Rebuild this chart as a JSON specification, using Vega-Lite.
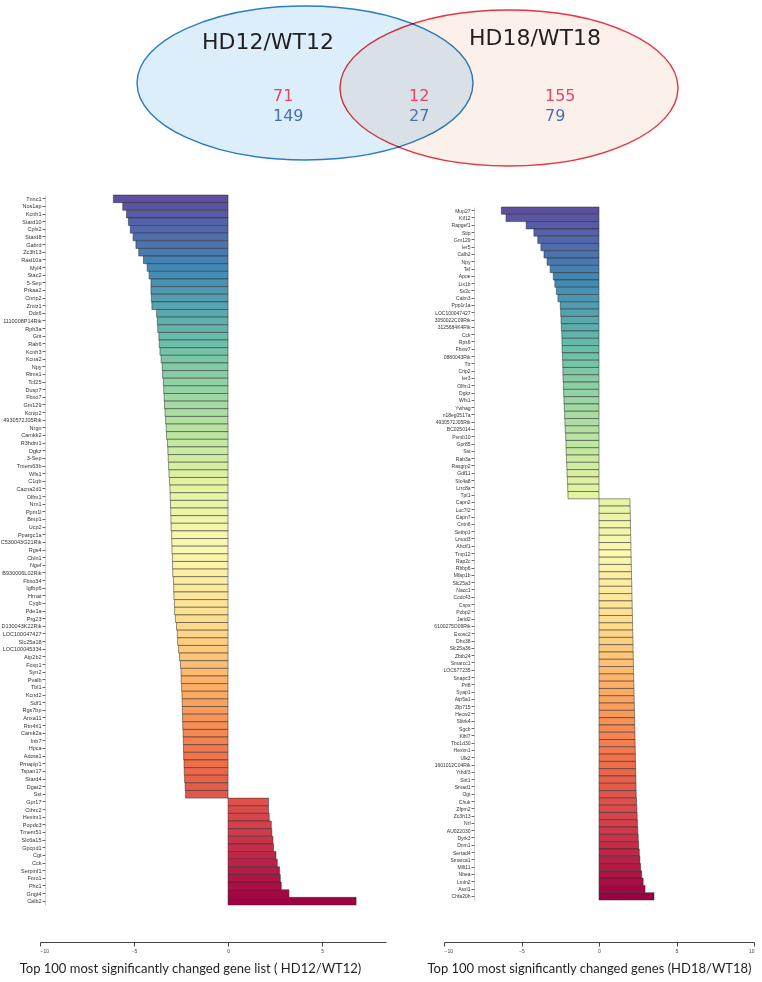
{
  "$schema": "https://vega.github.io/schema/vega-lite/v6.json",
  "background": "white",
  "padding": 0,
  "bounds": "flush",
  "spacing": 30,
  "config": {"view": {"stroke": null}},
  "datasets": {
    "sets": [
      {"set": "HD12", "cx": 265, "cy": 83},
      {"set": "HD18", "cx": 469, "cy": 88}
    ],
    "vlabels": [
      {"kind": "name", "x": 228, "y": 42, "label": "HD12/WT12"},
      {"kind": "name", "x": 495, "y": 38, "label": "HD18/WT18"},
      {"kind": "up", "x": 233, "y": 96, "label": "71"},
      {"kind": "down", "x": 233, "y": 116, "label": "149"},
      {"kind": "up", "x": 369, "y": 96, "label": "12"},
      {"kind": "down", "x": 369, "y": 116, "label": "27"},
      {"kind": "up", "x": 505, "y": 96, "label": "155"},
      {"kind": "down", "x": 505, "y": 116, "label": "79"}
    ],
    "hd12": [
      {"gene": "Tnnc1", "lfc": -6.1},
      {"gene": "Nos1ap", "lfc": -5.6},
      {"gene": "Kcnh1", "lfc": -5.4},
      {"gene": "Stard10", "lfc": -5.3},
      {"gene": "Cplx2", "lfc": -5.2},
      {"gene": "Stard8", "lfc": -5.05},
      {"gene": "Gabrd", "lfc": -4.9},
      {"gene": "Zc3h13", "lfc": -4.75},
      {"gene": "Rasl10a", "lfc": -4.5},
      {"gene": "Myl4", "lfc": -4.3},
      {"gene": "Stac2", "lfc": -4.2},
      {"gene": "5-Sep", "lfc": -4.1},
      {"gene": "Prkaa2", "lfc": -4.1},
      {"gene": "Cnrip2", "lfc": -4.08},
      {"gene": "Zmiz1", "lfc": -4.05},
      {"gene": "Ddx6", "lfc": -3.8},
      {"gene": "1110008P14Rik", "lfc": -3.76},
      {"gene": "Rph3a", "lfc": -3.74},
      {"gene": "Grit", "lfc": -3.68},
      {"gene": "Rab6", "lfc": -3.66},
      {"gene": "Kcnh3", "lfc": -3.62},
      {"gene": "Kcna2", "lfc": -3.56},
      {"gene": "Npy", "lfc": -3.5},
      {"gene": "Rims1", "lfc": -3.48},
      {"gene": "Tcf25", "lfc": -3.44},
      {"gene": "Dusp7", "lfc": -3.42},
      {"gene": "Fbxo7", "lfc": -3.4},
      {"gene": "Gm129", "lfc": -3.38},
      {"gene": "Kcnip2", "lfc": -3.35},
      {"gene": "4930572J05Rik", "lfc": -3.32},
      {"gene": "Nrgn", "lfc": -3.29},
      {"gene": "Camkk2", "lfc": -3.27},
      {"gene": "R3hdm1", "lfc": -3.22},
      {"gene": "Dgkz", "lfc": -3.2},
      {"gene": "3-Sep", "lfc": -3.18},
      {"gene": "Tmem63b", "lfc": -3.16},
      {"gene": "Wfs1", "lfc": -3.14},
      {"gene": "C1qb", "lfc": -3.11},
      {"gene": "Cacna2d1", "lfc": -3.09},
      {"gene": "Olfm1", "lfc": -3.08},
      {"gene": "Nrn1", "lfc": -3.06},
      {"gene": "Ppm1l", "lfc": -3.05},
      {"gene": "Bmp1", "lfc": -3.04},
      {"gene": "Ucp2", "lfc": -3.03},
      {"gene": "Ppargc1a", "lfc": -3.0},
      {"gene": "C530043G21Rik", "lfc": -2.99},
      {"gene": "Rgs4", "lfc": -2.98},
      {"gene": "Cbln1", "lfc": -2.96},
      {"gene": "Ngef", "lfc": -2.95},
      {"gene": "B930006L02Rik", "lfc": -2.94},
      {"gene": "Fbxo34", "lfc": -2.9},
      {"gene": "Igfbp6", "lfc": -2.89},
      {"gene": "Hrnat", "lfc": -2.88},
      {"gene": "Cygb", "lfc": -2.85},
      {"gene": "Pde1a", "lfc": -2.84},
      {"gene": "Prg23", "lfc": -2.8},
      {"gene": "D130043K22Rik", "lfc": -2.74},
      {"gene": "LOC100047427", "lfc": -2.7},
      {"gene": "Slc25a18", "lfc": -2.68},
      {"gene": "LOC100045334", "lfc": -2.63},
      {"gene": "Atp2b2", "lfc": -2.58},
      {"gene": "Foxp1", "lfc": -2.53},
      {"gene": "Syn2", "lfc": -2.5},
      {"gene": "Pvalb", "lfc": -2.49},
      {"gene": "Tbl1", "lfc": -2.47},
      {"gene": "Kcnd2", "lfc": -2.45},
      {"gene": "Sdf1", "lfc": -2.44},
      {"gene": "Rgs7bp", "lfc": -2.43},
      {"gene": "Anxa11", "lfc": -2.42},
      {"gene": "Rtn4rl1", "lfc": -2.41},
      {"gene": "Camk2a", "lfc": -2.39},
      {"gene": "Inb7", "lfc": -2.38},
      {"gene": "Hpca", "lfc": -2.37},
      {"gene": "Adora1", "lfc": -2.36},
      {"gene": "Prnapip1", "lfc": -2.34},
      {"gene": "Tspan17", "lfc": -2.33},
      {"gene": "Stard4", "lfc": -2.31},
      {"gene": "Dgat2", "lfc": -2.28},
      {"gene": "Sst", "lfc": -2.26},
      {"gene": "Gpr17", "lfc": 2.15},
      {"gene": "Cthrc2", "lfc": 2.15},
      {"gene": "Hexim1", "lfc": 2.19},
      {"gene": "Popdc3", "lfc": 2.3},
      {"gene": "Tmem51", "lfc": 2.33},
      {"gene": "Slc6a15", "lfc": 2.39},
      {"gene": "Gpcpd1", "lfc": 2.42},
      {"gene": "Cgt", "lfc": 2.55},
      {"gene": "Cck", "lfc": 2.62},
      {"gene": "Serpinf1", "lfc": 2.74},
      {"gene": "Fmo1", "lfc": 2.78},
      {"gene": "Phc1", "lfc": 2.83},
      {"gene": "Gngt4", "lfc": 3.24},
      {"gene": "Calb2", "lfc": 6.81}
    ],
    "hd18": [
      {"gene": "Mup27", "lfc": -6.3},
      {"gene": "Kif12", "lfc": -6.0},
      {"gene": "Rapgef1", "lfc": -4.7},
      {"gene": "Stip", "lfc": -4.2},
      {"gene": "Gm129", "lfc": -3.95},
      {"gene": "Ier5", "lfc": -3.75},
      {"gene": "Calb2", "lfc": -3.55},
      {"gene": "Npy", "lfc": -3.35},
      {"gene": "Tef", "lfc": -3.15},
      {"gene": "Apoe", "lfc": -2.95},
      {"gene": "Lix1b", "lfc": -2.85},
      {"gene": "Sv2c", "lfc": -2.75},
      {"gene": "Calm3", "lfc": -2.65},
      {"gene": "Ppp1r1a", "lfc": -2.5},
      {"gene": "LOC100047427", "lfc": -2.47},
      {"gene": "3050022C09Rik", "lfc": -2.45},
      {"gene": "3125684K4Rik", "lfc": -2.43},
      {"gene": "Cck", "lfc": -2.4},
      {"gene": "Rps6", "lfc": -2.39},
      {"gene": "Fbxw7", "lfc": -2.38},
      {"gene": "0880043Rik", "lfc": -2.36},
      {"gene": "Ttr", "lfc": -2.34},
      {"gene": "Crip2", "lfc": -2.33},
      {"gene": "Ier3", "lfc": -2.32},
      {"gene": "Olfm1", "lfc": -2.3},
      {"gene": "Dgkz", "lfc": -2.28},
      {"gene": "Wfs1", "lfc": -2.26},
      {"gene": "Ywhag", "lfc": -2.24},
      {"gene": "n18eg0517a", "lfc": -2.22},
      {"gene": "4930572J05Rik", "lfc": -2.2},
      {"gene": "BC025014", "lfc": -2.18},
      {"gene": "Psmb10", "lfc": -2.15},
      {"gene": "Gpr85", "lfc": -2.13},
      {"gene": "Sst", "lfc": -2.12},
      {"gene": "Rab3a", "lfc": -2.1},
      {"gene": "Rasgrp2", "lfc": -2.08},
      {"gene": "Gdf11", "lfc": -2.06},
      {"gene": "Slc4a8", "lfc": -2.04},
      {"gene": "Lrrc8a", "lfc": -2.02},
      {"gene": "Tpt1", "lfc": -2.0},
      {"gene": "Capn2", "lfc": 2.0},
      {"gene": "Luc7l2", "lfc": 2.01},
      {"gene": "Capn7", "lfc": 2.02},
      {"gene": "Cntn6", "lfc": 2.03},
      {"gene": "Setbp1", "lfc": 2.04},
      {"gene": "Lmod3", "lfc": 2.05},
      {"gene": "Ahctf1", "lfc": 2.06},
      {"gene": "Tmp12", "lfc": 2.07},
      {"gene": "Rap2c", "lfc": 2.08},
      {"gene": "Rbbp6", "lfc": 2.09},
      {"gene": "Mfap1b", "lfc": 2.1},
      {"gene": "Slc25a3", "lfc": 2.11},
      {"gene": "Nacc1", "lfc": 2.12},
      {"gene": "Ccdc43", "lfc": 2.13},
      {"gene": "Cspx", "lfc": 2.14},
      {"gene": "Pcbp2", "lfc": 2.15},
      {"gene": "Jarid2", "lfc": 2.16},
      {"gene": "6100275O09Rik", "lfc": 2.17},
      {"gene": "Exosc2", "lfc": 2.18},
      {"gene": "Dhx38", "lfc": 2.19},
      {"gene": "Slc25a36", "lfc": 2.2},
      {"gene": "Zbtb24", "lfc": 2.21},
      {"gene": "Smarcc1", "lfc": 2.22},
      {"gene": "LOC677235", "lfc": 2.23},
      {"gene": "Snapc3", "lfc": 2.24},
      {"gene": "Prl8", "lfc": 2.25},
      {"gene": "Syap1", "lfc": 2.26},
      {"gene": "Atp5a1", "lfc": 2.27},
      {"gene": "Zfp715", "lfc": 2.28},
      {"gene": "Hecw2", "lfc": 2.29},
      {"gene": "Slitrk4", "lfc": 2.3},
      {"gene": "Sgcb", "lfc": 2.31},
      {"gene": "Klhl7", "lfc": 2.32},
      {"gene": "Tbc1d30", "lfc": 2.33},
      {"gene": "Hexim1", "lfc": 2.34},
      {"gene": "Ulk2", "lfc": 2.35},
      {"gene": "1601012C04Rik", "lfc": 2.36},
      {"gene": "Ythdf3", "lfc": 2.37},
      {"gene": "Sirt1", "lfc": 2.38},
      {"gene": "Smad1", "lfc": 2.39},
      {"gene": "Ogt", "lfc": 2.4},
      {"gene": "Chuk", "lfc": 2.42},
      {"gene": "Zfpm2", "lfc": 2.44},
      {"gene": "Zc3h13", "lfc": 2.46},
      {"gene": "Nrl", "lfc": 2.48},
      {"gene": "AU022030", "lfc": 2.5},
      {"gene": "Dyrk3", "lfc": 2.53},
      {"gene": "Dnm1", "lfc": 2.56},
      {"gene": "Sertad4", "lfc": 2.6},
      {"gene": "Smarca1", "lfc": 2.64},
      {"gene": "Mllt11", "lfc": 2.68},
      {"gene": "Nbea", "lfc": 2.75},
      {"gene": "Lmln2", "lfc": 2.85},
      {"gene": "Asxl1", "lfc": 2.97},
      {"gene": "Chfa20h", "lfc": 3.55}
    ]
  },
  "vconcat": [
    {
      "width": 720,
      "height": 165,
      "layer": [
        {
          "data": {"name": "sets"},
          "transform": [{"filter": "datum.set === 'HD12'"}],
          "mark": {"type": "point", "shape": "M -1 0 A 1 0.458 0 1 1 1 0 A 1 0.458 0 1 1 -1 0 Z", "size": 112896, "filled": true, "fill": "#DDEEFB", "stroke": "#2D7BC0", "strokeWidth": 1.4, "opacity": 1},
          "encoding": {
            "x": {"field": "cx", "type": "quantitative", "scale": {"domain": [0, 720], "nice": false}, "axis": null},
            "y": {"field": "cy", "type": "quantitative", "scale": {"domain": [165, 0], "nice": false}, "axis": null}
          }
        },
        {
          "data": {"name": "sets"},
          "transform": [{"filter": "datum.set === 'HD18'"}],
          "mark": {"type": "point", "shape": "M -1 0 A 1 0.4615 0 1 1 1 0 A 1 0.4615 0 1 1 -1 0 Z", "size": 114244, "filled": true, "fill": "#FCF1EA", "stroke": "#E63540", "strokeWidth": 1.4, "opacity": 1, "blend": "multiply"},
          "encoding": {
            "x": {"field": "cx", "type": "quantitative"},
            "y": {"field": "cy", "type": "quantitative"}
          }
        },
        {
          "data": {"name": "vlabels"},
          "transform": [{"filter": "datum.kind === 'name'"}],
          "mark": {"type": "text", "font": "DejaVu Sans", "fontSize": 22, "color": "#231F20", "align": "center", "baseline": "middle"},
          "encoding": {
            "x": {"field": "x", "type": "quantitative"},
            "y": {"field": "y", "type": "quantitative"},
            "text": {"field": "label"}
          }
        },
        {
          "data": {"name": "vlabels"},
          "transform": [{"filter": "datum.kind === 'up'"}],
          "mark": {"type": "text", "font": "DejaVu Sans", "fontSize": 16, "color": "#E8436B", "align": "left", "baseline": "middle"},
          "encoding": {
            "x": {"field": "x", "type": "quantitative"},
            "y": {"field": "y", "type": "quantitative"},
            "text": {"field": "label"}
          }
        },
        {
          "data": {"name": "vlabels"},
          "transform": [{"filter": "datum.kind === 'down'"}],
          "mark": {"type": "text", "font": "DejaVu Sans", "fontSize": 16, "color": "#4B6CB7", "align": "left", "baseline": "middle"},
          "encoding": {
            "x": {"field": "x", "type": "quantitative"},
            "y": {"field": "y", "type": "quantitative"},
            "text": {"field": "label"}
          }
        }
      ]
    },
    {
      "bounds": "flush",
      "spacing": 58,
      "resolve": {"scale": {"x": "independent", "y": "independent", "color": "independent"}},
      "hconcat": [
        {
          "width": 346,
          "height": 710,
          "data": {"name": "hd12"},
          "transform": [{"window": [{"op": "row_number", "as": "rank"}]}],
          "mark": {"type": "bar", "stroke": "#2a2a2a", "strokeWidth": 0.5},
          "encoding": {
            "y": {"field": "gene", "type": "nominal", "sort": null, "scale": {"paddingInner": 0, "paddingOuter": 0},
              "axis": {"title": null, "labelFontSize": 5.5, "labelFont": "Liberation Sans", "labelColor": "#333", "tickSize": 3, "tickColor": "#666", "domainColor": "#999", "domainWidth": 0.5, "labelPadding": 1, "offset": -5}},
            "x": {"field": "lfc", "type": "quantitative", "scale": {"domain": [-10, 8.4], "nice": false},
              "axis": {"values": [-10, -5, 0, 5], "grid": false, "offset": 37, "labelFontSize": 5, "labelFont": "Liberation Sans", "labelColor": "#444", "tickSize": 4, "tickColor": "#444", "domainColor": "#444",
                "title": "Top 100 most significantly changed gene list ( HD12/WT12)", "titleFont": "Lato", "titleFontSize": 13, "titleFontWeight": "normal", "titleColor": "#231F20", "titleX": 150, "titleY": 26, "titleAlign": "center", "titleBaseline": "middle"}},
            "color": {"field": "rank", "type": "quantitative", "scale": {"scheme": "spectral", "reverse": true}, "legend": null}
          }
        },
        {
          "width": 310,
          "height": 710,
          "data": {"name": "hd18"},
          "transform": [{"window": [{"op": "row_number", "as": "rank"}]}],
          "mark": {"type": "bar", "stroke": "#2a2a2a", "strokeWidth": 0.5},
          "encoding": {
            "y": {"field": "gene", "type": "nominal", "sort": null, "scale": {"paddingInner": 0, "paddingOuter": 0, "range": [12, 705]},
              "axis": {"title": null, "labelFontSize": 5, "labelFont": "Liberation Sans", "labelColor": "#333", "tickSize": 3, "tickColor": "#666", "domainColor": "#999", "domainWidth": 0.5, "labelPadding": 1, "offset": -30}},
            "x": {"field": "lfc", "type": "quantitative", "scale": {"domain": [-10, 10], "nice": false},
              "axis": {"values": [-10, -5, 0, 5, 10], "grid": false, "offset": 37, "labelFontSize": 5, "labelFont": "Liberation Sans", "labelColor": "#444", "tickSize": 4, "tickColor": "#444", "domainColor": "#444",
                "title": "Top 100 most significantly changed genes (HD18/WT18)", "titleFont": "Lato", "titleFontSize": 13, "titleFontWeight": "normal", "titleColor": "#231F20", "titleX": 145, "titleY": 26, "titleAlign": "center", "titleBaseline": "middle"}},
            "color": {"field": "rank", "type": "quantitative", "scale": {"scheme": "spectral", "reverse": true}, "legend": null}
          }
        }
      ]
    }
  ]
}
